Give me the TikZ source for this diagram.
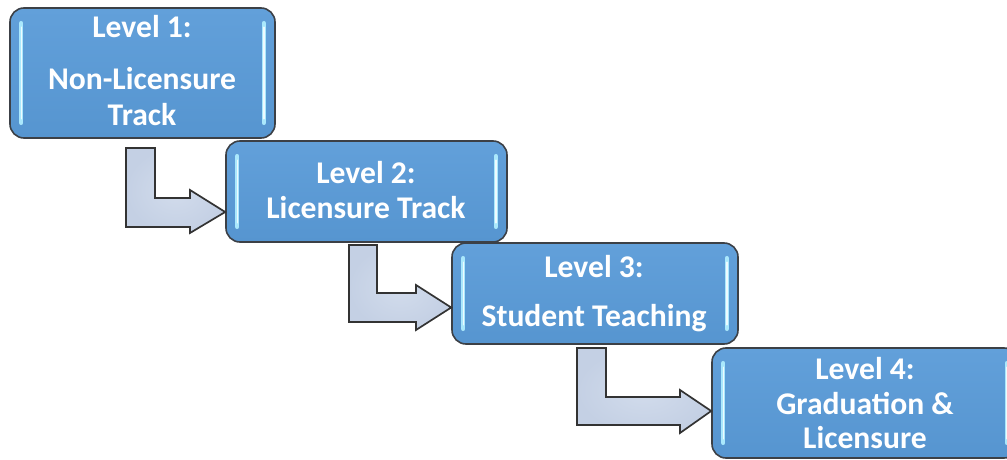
\documentclass[tikz,border=0pt]{standalone}
\usepackage{fontspec}
\setmainfont{Carlito}
\usetikzlibrary{calc}
\definecolor{boxtop}{RGB}{98,160,218}
\definecolor{boxbot}{RGB}{86,149,208}
\definecolor{boxline}{RGB}{60,64,70}
\definecolor{hlcyan}{RGB}{170,232,252}
\definecolor{arrfill}{RGB}{196,208,228}
\definecolor{arrinner}{RGB}{210,220,236}
\tikzset{
  levelbox/.style={rectangle, rounded corners=14pt, draw=boxline, line width=1.6pt,
    top color=boxtop, bottom color=boxbot, inner sep=0pt},
  leveltext/.style={anchor=base, text=white, inner sep=0pt,
    font=\fontsize{31.6}{35}\selectfont\bfseries},
  hlbar/.style={draw=hlcyan, line width=4.5pt, line cap=round},
  hlcore/.style={draw=white!80!hlcyan, line width=1.4pt, line cap=round},
  larrow/.style={draw=black!80, line width=1.7pt, line join=miter,
    inner color=arrinner, outer color=arrfill},
}
\begin{document}
\begin{tikzpicture}[x=1pt,y=-1pt]
\clip (0,0) rectangle (1007,460);
\useasboundingbox (0,0) rectangle (1007,460);
% boxes
\node[levelbox, minimum width=265pt, minimum height=130pt] (b1) at (142.5,73) {};
\node[levelbox, minimum width=281pt, minimum height=101pt] (b2) at (366.5,191.5) {};
\node[levelbox, minimum width=286pt, minimum height=101pt] (b3) at (595,293.5) {};
\node[levelbox, minimum width=306pt, minimum height=110pt] (b4) at (865,403) {};
% highlight bars
\foreach \b in {b1,b2,b3,b4}{
  \draw[hlbar] ([xshift=12pt,yshift=-16pt]\b.north west) -- ([xshift=12pt,yshift=16pt]\b.south west);
  \draw[hlcore] ([xshift=12pt,yshift=-20pt]\b.north west) -- ([xshift=12pt,yshift=20pt]\b.south west);
  \draw[hlbar] ([xshift=-12pt,yshift=-16pt]\b.north east) -- ([xshift=-12pt,yshift=16pt]\b.south east);
  \draw[hlcore] ([xshift=-12pt,yshift=-20pt]\b.north east) -- ([xshift=-12pt,yshift=20pt]\b.south east);
}
% texts
\node[leveltext] (t1a) at (142,38) {Level 1:};
\node[leveltext] (t1b) at (142,89) {Non-Licensure};
\node[leveltext] (t1c) at (142,125) {Track};
\node[leveltext] (t2a) at (366,183) {Level 2:};
\node[leveltext] (t2b) at (366,218) {Licensure Track};
\node[leveltext] (t3a) at (594,277) {Level 3:};
\node[leveltext] (t3b) at (594,326) {Student Teaching};
\node[leveltext] (t4a) at (865,379) {Level 4:};
\node[leveltext] (t4b) at (865,414) {Graduation \&};
\node[leveltext] (t4c) at (865,448) {Licensure};
% L-shaped block arrows from box to box
\draw[larrow] (126,148) -- (155,148) -- (155,198) -- (190,198) -- (190,190)
  -- (b2.west |- 0,212) -- (190,233) -- (190,227) -- (126,227) -- cycle;
\draw[larrow] (349,245) -- (377,245) -- (377,293) -- (416,293) -- (416,285)
  -- (b3.west |- 0,307.5) -- (416,330) -- (416,322) -- (349,322) -- cycle;
\draw[larrow] (577,348) -- (606,348) -- (606,397) -- (680,397) -- (680,390)
  -- (b4.west |- 0,411) -- (680,433) -- (680,425) -- (577,425) -- cycle;
\end{tikzpicture}
\end{document}
